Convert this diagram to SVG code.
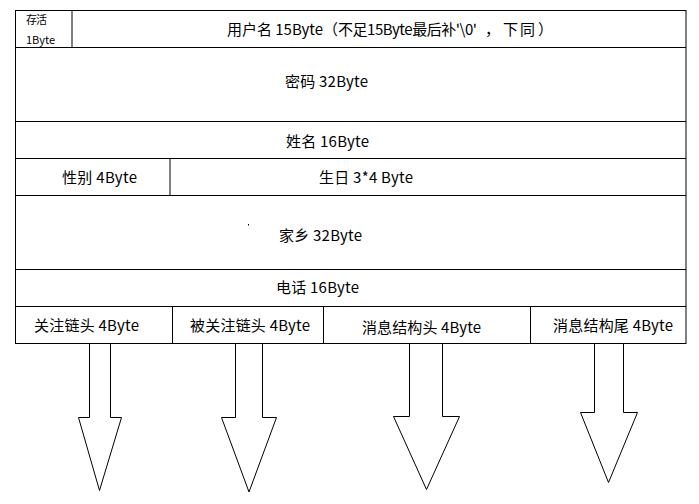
<svg xmlns="http://www.w3.org/2000/svg" width="699" height="504" viewBox="0 0 699 504">
<style>
.ln{stroke:#000;stroke-width:1;fill:none}
.cell{stroke:#000;stroke-width:1;fill:#fff}
.t{font-family:"Noto Sans CJK SC","Liberation Sans",sans-serif;font-size:15px;fill:#000}
.s{font-family:"Noto Sans CJK SC","Liberation Sans",sans-serif;font-size:11px;fill:#000}
.arrow{stroke:#000;stroke-width:1;fill:#fff;stroke-linejoin:miter}
</style>
<rect width="699" height="504" fill="#fff"/>
<g id="record">
  <rect class="cell" x="15.5" y="10.5" width="670.5" height="333"/>
</g>
<g id="alive">
  <line class="ln" x1="72" y1="10.5" x2="72" y2="47.5"/>
  <text class="s" x="26" y="24" textLength="21">存活</text>
  <text class="s" x="26" y="44" textLength="29">1Byte</text>
</g>
<g id="username">
  <line class="ln" x1="15.5" y1="47.5" x2="686" y2="47.5"/>
  <text class="t" y="35"><tspan x="227" textLength="96">用户名 15Byte</tspan><tspan x="323">（</tspan><tspan x="338" textLength="139">不足15Byte最后补'\0'</tspan><tspan x="485">，</tspan><tspan x="503" textLength="32">下同</tspan><tspan x="538">）</tspan></text>
</g>
<g id="password">
  <line class="ln" x1="15.5" y1="121.5" x2="686" y2="121.5"/>
  <text class="t" x="285" y="87" textLength="83">密码 32Byte</text>
</g>
<g id="name">
  <line class="ln" x1="15.5" y1="158.5" x2="686" y2="158.5"/>
  <text class="t" x="286" y="147" textLength="83">姓名 16Byte</text>
</g>
<g id="gender">
  <line class="ln" x1="170" y1="158.5" x2="170" y2="195.5"/>
  <text class="t" x="62" y="183" textLength="75">性别 4Byte</text>
</g>
<g id="birthday">
  <text class="t" x="319" y="183" textLength="94">生日 3*4 Byte</text>
</g>
<g id="hometown">
  <line class="ln" x1="15.5" y1="195.5" x2="686" y2="195.5"/>
  <rect x="248" y="224" width="1" height="1.5" fill="#000"/>
  <text class="t" x="279" y="241" textLength="83">家乡 32Byte</text>
</g>
<g id="phone">
  <line class="ln" x1="15.5" y1="269.5" x2="686" y2="269.5"/>
  <text class="t" x="276" y="293" textLength="83">电话 16Byte</text>
</g>
<g id="follow-head">
  <line class="ln" x1="15.5" y1="306.5" x2="686" y2="306.5"/>
  <line class="ln" x1="172.5" y1="306.5" x2="172.5" y2="343.5"/>
  <text class="t" x="34" y="331" textLength="105">关注链头 4Byte</text>
</g>
<g id="followed-head">
  <line class="ln" x1="323.5" y1="306.5" x2="323.5" y2="343.5"/>
  <text class="t" x="190" y="331" textLength="120">被关注链头 4Byte</text>
</g>
<g id="msg-head">
  <line class="ln" x1="530.5" y1="306.5" x2="530.5" y2="343.5"/>
  <text class="t" x="362" y="333" textLength="119">消息结构头 4Byte</text>
</g>
<g id="msg-tail">
  <text class="t" x="553" y="331" textLength="120">消息结构尾 4Byte</text>
</g>
<g id="connectors">
  <polygon class="arrow" points="89.5,343.5 110.5,343.5 110.5,417.5 121.5,417.5 99.5,490.5 78.5,417.5 89.5,417.5"/>
  <polygon class="arrow" points="235.5,343.5 262.5,343.5 262.5,417.5 276.5,417.5 249,492 221.5,417.5 235.5,417.5"/>
  <polygon class="arrow" points="409.5,343.5 442.5,343.5 442.5,416.5 459.5,416.5 426.5,489.5 393.5,416.5 409.5,416.5"/>
  <polygon class="arrow" points="594.5,343.5 623.5,343.5 623.5,412.5 637.5,412.5 608.5,482.5 580.5,412.5 594.5,412.5"/>
</g>
</svg>
